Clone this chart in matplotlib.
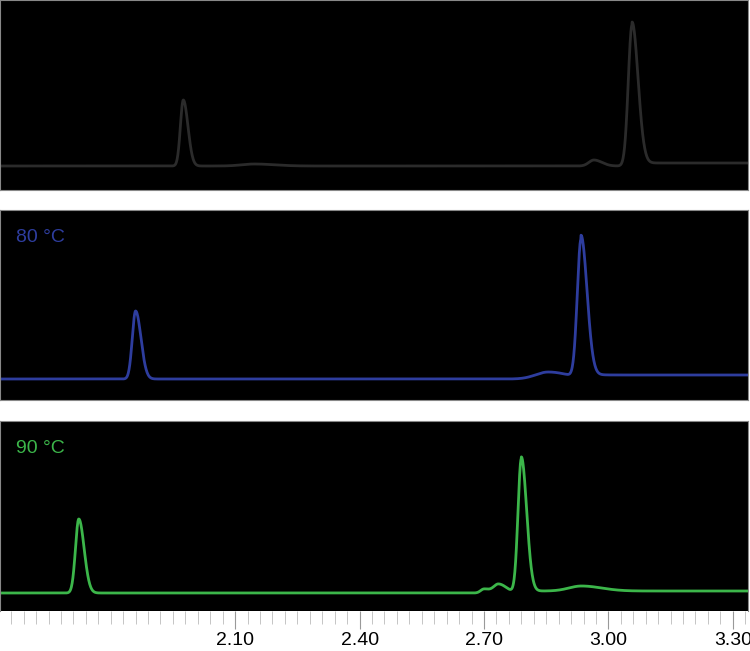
import numpy as np
import matplotlib
matplotlib.use("Agg")
import matplotlib.pyplot as plt
from matplotlib.ticker import MultipleLocator, FixedLocator

plt.rcParams['font.family'] = ['Liberation Sans', 'DejaVu Sans']

# peak parameters: centre (min), height, width (sigma)
top_centres = [1.975, 2.146, 2.965, 3.057]
top_heights = [66, 2, 6, 141]
top_widths = [0.007, 0.03, 0.012, 0.009]
mid_centres = [1.860, 2.855, 2.934]
mid_heights = [68, 7, 138]
mid_widths = [0.008, 0.03, 0.009]
bot_centres = [1.723, 2.700, 2.735, 2.790, 2.935]
bot_heights = [74, 4, 9, 134, 5]
bot_widths = [0.008, 0.008, 0.012, 0.008, 0.03]
labels = ["", "80 °C", "90 °C"]
colors = ["#2b2b2b", "#2e3d9e", "#3cb64a"]
xticks_major = [2.10, 2.40, 2.70, 3.00, 3.30]

x = np.linspace(1.52, 3.34, 3000)

def trace(c, h, w):
    y = np.zeros_like(x)
    for ci, hi, wi in zip(c, h, w):
        left = np.exp(-0.5 * ((x - ci) / wi) ** 2)
        right = np.exp(-0.5 * ((x - ci) / (wi * 1.6)) ** 2)
        y += hi * np.where(x < ci, left, right)
    return y

traces = [trace(top_centres, top_heights, top_widths),
          trace(mid_centres, mid_heights, mid_widths),
          trace(bot_centres, bot_heights, bot_widths)]
steps = [(top_centres[-1], 3), (mid_centres[-1], 4), (bot_centres[3], 2)]

fig = plt.figure(figsize=(7.5, 6.51), dpi=100)
H = 651
panels = [(0, 190, 24), (210, 400, 21), (421, 611, 18)]
axes = []
for i, (t, b, base) in enumerate(panels):
    ax = fig.add_axes([0, (H - b) / H, 0.997, (b - t) / H])
    ax.set_facecolor("black")
    ax.set_xlim(1.533, 3.336)
    ax.set_ylim(-base, (b - t) - base)
    y = traces[i] + np.where(x > steps[i][0], steps[i][1], 0)
    ax.plot(x, y, color=colors[i], lw=2)
    for s in ax.spines.values():
        s.set_color("#888888")
        s.set_linewidth(0.8)
    if labels[i]:
        ax.text(0.022, 0.9, labels[i], transform=ax.transAxes, color=colors[i],
                fontsize=14, va="top", ha="left")
    ax.set_yticks([])
    if i < 2:
        ax.set_xticks([])
    axes.append(ax)

ax = axes[2]
ax.spines["bottom"].set_visible(False)
ax.xaxis.set_major_locator(FixedLocator(xticks_major))
ax.set_xticklabels([f"{v:.2f}" for v in xticks_major])
ax.xaxis.set_minor_locator(MultipleLocator(0.03))
ax.tick_params(axis="x", which="major", length=13, width=0.8, color="#999999",
               labelsize=14, pad=2, direction="out")
ax.tick_params(axis="x", which="minor", length=9, width=0.6, color="#bbbbbb")
fig.savefig("out.png", dpi=100, facecolor="white")
